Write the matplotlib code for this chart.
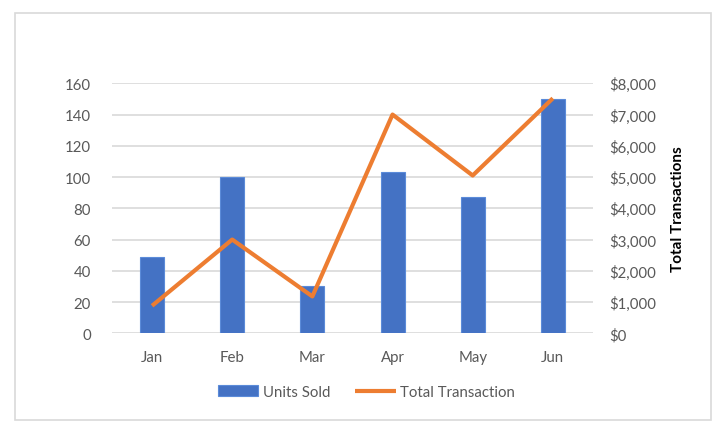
import matplotlib
matplotlib.use('Agg')
from matplotlib import pyplot as plt
from matplotlib.patches import Rectangle
from matplotlib.ticker import FuncFormatter
import numpy as np

plt.rcParams['font.family'] = ['Lato', 'DejaVu Sans']

months = ['Jan', 'Feb', 'Mar', 'Apr', 'May', 'Jun']
units_sold = [49, 100, 30, 103, 87, 150]
total_transaction = [880, 3000, 1180, 7000, 5050, 7520]

BLUE = '#4472C4'
ORANGE = '#ED7D31'
GRID = '#D9D9D9'
TICK = '#595959'

fig = plt.figure(figsize=(7.27, 4.35), dpi=100)
fig.patch.set_facecolor('white')
fig.patches.append(Rectangle((15 / 727, 14 / 435), 696 / 727, 407 / 435,
                             transform=fig.transFigure, fill=False,
                             edgecolor='#D9D9D9', linewidth=1.2))

ax = fig.add_axes([0.154, 0.2315, 0.6616, 0.5747])
x = np.arange(len(months))
bars = ax.bar(x, units_sold, width=0.3, color=BLUE, edgecolor='#5B8BD9',
              linewidth=0.8, label='Units Sold', zorder=2)
ax.set_xlim(-0.5, len(months) - 0.5)
ax.set_ylim(0, 160)
ax.set_yticks(range(0, 161, 20))
ax.set_xticks(x)
ax.set_xticklabels(months)
ax.grid(axis='y', color=GRID, linewidth=1.2, zorder=0)
ax.set_axisbelow(True)
for s in ax.spines.values():
    s.set_visible(False)
ax.tick_params(axis='both', length=0, labelsize=10.8, labelcolor=TICK)
ax.tick_params(axis='x', pad=12)
ax.tick_params(axis='y', pad=15)

ax2 = ax.twinx()
line, = ax2.plot(x, total_transaction, color=ORANGE, linewidth=3,
                 solid_capstyle='butt', label='Total Transaction', zorder=3)
ax2.set_ylim(0, 8000)
ax2.set_yticks(range(0, 8001, 1000))
ax2.yaxis.set_major_formatter(FuncFormatter(lambda v, p: f'${v:,.0f}'))
for s in ax2.spines.values():
    s.set_visible(False)
ax2.tick_params(axis='y', length=0, labelsize=10.8, labelcolor=TICK, pad=12)
ax2.set_ylabel('Total Transactions', fontsize=11, fontweight='bold',
               color='black', labelpad=10)

fig.legend(handles=[bars, line], labels=['Units Sold', 'Total Transaction'],
           loc='center', bbox_to_anchor=(0.504, 0.0966), ncol=2, frameon=False,
           fontsize=10.8, labelcolor=TICK, handlelength=2.7, handletextpad=0.3,
           columnspacing=1.7)

fig.savefig('out.png', dpi=100)
